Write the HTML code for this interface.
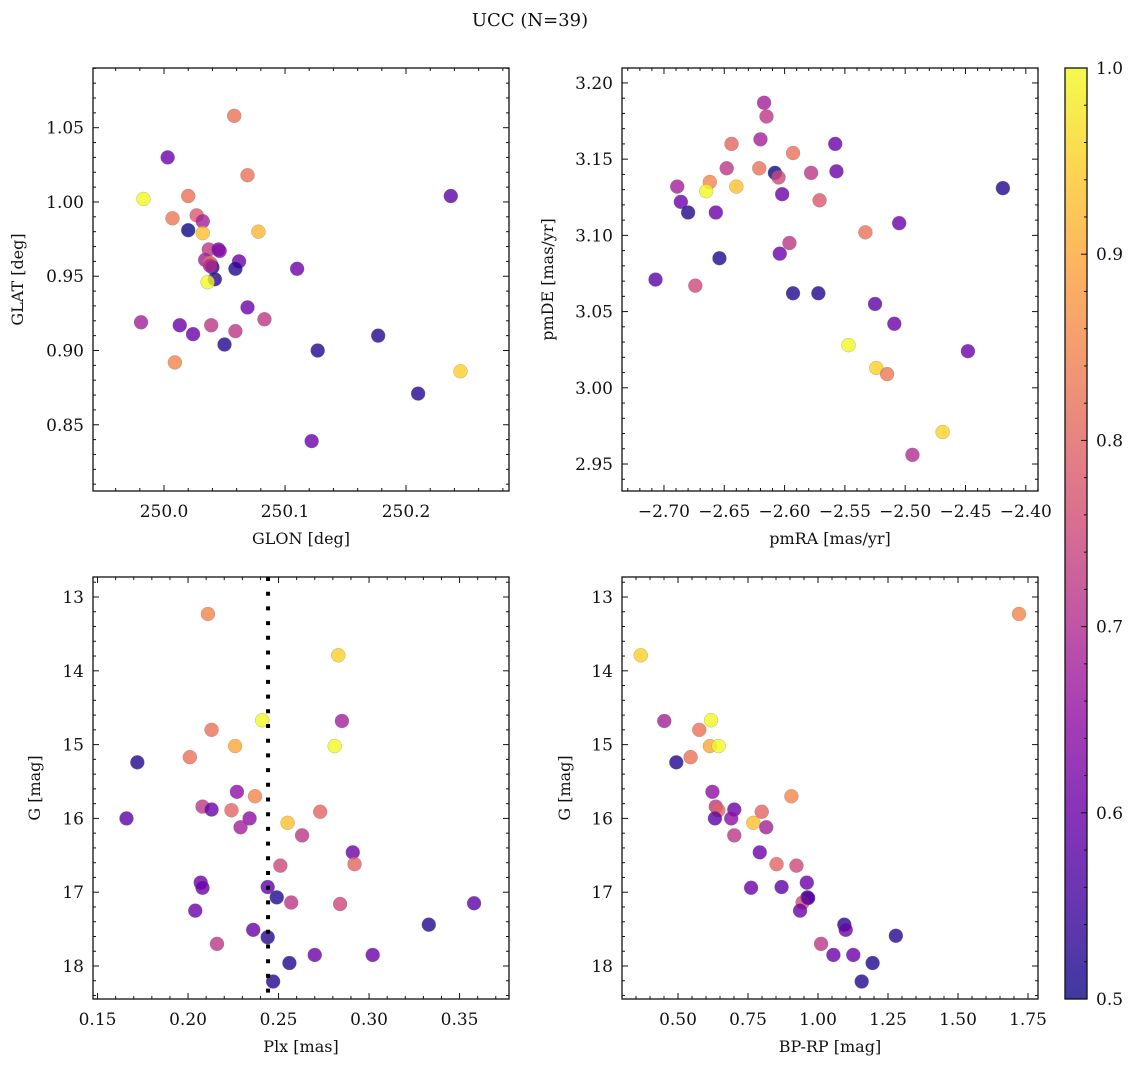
<!DOCTYPE html>
<html><head><meta charset="utf-8"><style>
html,body{margin:0;padding:0;background:#fff}
svg{display:block}
text{font-family:"DejaVu Serif","Liberation Serif",serif;fill:#111}
</style></head><body>
<svg id="fig" width="1136" height="1067" viewBox="0 0 1136 1067" xmlns="http://www.w3.org/2000/svg">
<defs>
<linearGradient id="plasmaGrad" x1="0" y1="1" x2="0" y2="0">
<stop offset="0" stop-color="#0d0887"/><stop offset="0.1" stop-color="#41049d"/><stop offset="0.2" stop-color="#6a00a8"/><stop offset="0.3" stop-color="#8f0da4"/><stop offset="0.4" stop-color="#b12a90"/><stop offset="0.5" stop-color="#cc4778"/><stop offset="0.6" stop-color="#e16462"/><stop offset="0.7" stop-color="#f2844b"/><stop offset="0.8" stop-color="#fca636"/><stop offset="0.9" stop-color="#fcce25"/><stop offset="1" stop-color="#f0f921"/>
</linearGradient>
</defs>
<text x="530" y="26" text-anchor="middle" font-size="18">UCC (N=39)</text>
</svg>
<script>
// ---------- data ----------
const glon = [250.058,250.003,250.069,249.983,250.020,250.237,250.007,250.027,250.032,250.020,250.032,250.078,250.037,250.045,250.046,250.034,250.039,250.038,250.040,250.062,250.059,250.110,250.042,250.036,250.069,249.981,250.013,250.039,250.083,250.024,250.059,250.050,250.009,250.127,250.177,250.245,250.210,250.122,250.038];
const glat = [1.058,1.030,1.018,1.002,1.004,1.004,0.989,0.991,0.987,0.981,0.979,0.980,0.968,0.968,0.967,0.961,0.958,0.959,0.956,0.960,0.955,0.955,0.948,0.946,0.929,0.919,0.917,0.917,0.921,0.911,0.913,0.904,0.892,0.900,0.910,0.886,0.871,0.839,0.957];
const probA = [0.82,0.6,0.82,1.0,0.82,0.58,0.83,0.78,0.68,0.5,0.93,0.92,0.72,0.6,0.65,0.68,0.75,0.82,0.52,0.6,0.52,0.6,0.52,1.0,0.6,0.68,0.6,0.72,0.72,0.6,0.72,0.52,0.85,0.52,0.52,0.95,0.52,0.6,0.7];

const pmra = [-2.617,-2.615,-2.620,-2.644,-2.558,-2.593,-2.648,-2.621,-2.608,-2.605,-2.578,-2.557,-2.689,-2.662,-2.665,-2.640,-2.419,-2.602,-2.686,-2.571,-2.680,-2.657,-2.505,-2.533,-2.596,-2.604,-2.654,-2.707,-2.674,-2.593,-2.572,-2.525,-2.509,-2.547,-2.448,-2.524,-2.515,-2.469,-2.494];
const pmde = [3.187,3.178,3.163,3.160,3.160,3.154,3.144,3.144,3.141,3.138,3.141,3.142,3.132,3.135,3.129,3.132,3.131,3.127,3.122,3.123,3.115,3.115,3.108,3.102,3.095,3.088,3.085,3.071,3.067,3.062,3.062,3.055,3.042,3.028,3.024,3.013,3.009,2.971,2.956];
const probB = [0.68,0.72,0.68,0.8,0.6,0.82,0.72,0.82,0.5,0.75,0.72,0.6,0.68,0.85,1.0,0.93,0.52,0.6,0.6,0.78,0.52,0.6,0.6,0.82,0.72,0.6,0.52,0.58,0.75,0.52,0.52,0.58,0.6,1.0,0.6,0.95,0.83,0.95,0.7];

const plx = [0.211,0.283,0.241,0.285,0.213,0.226,0.281,0.172,0.201,0.227,0.237,0.208,0.213,0.224,0.273,0.166,0.234,0.255,0.229,0.263,0.291,0.292,0.251,0.207,0.208,0.244,0.249,0.257,0.284,0.358,0.204,0.333,0.236,0.244,0.216,0.270,0.302,0.256,0.247];
const gmagC = [13.23,13.79,14.67,14.68,14.80,15.02,15.02,15.24,15.17,15.64,15.70,15.84,15.88,15.89,15.91,16.00,16.00,16.06,16.12,16.23,16.46,16.62,16.64,16.87,16.94,16.93,17.07,17.14,17.16,17.15,17.25,17.44,17.51,17.61,17.70,17.85,17.85,17.96,18.21];
const probC = [0.85,0.95,1.0,0.68,0.82,0.9,1.0,0.52,0.82,0.65,0.85,0.72,0.6,0.8,0.8,0.58,0.65,0.93,0.68,0.72,0.6,0.8,0.75,0.6,0.6,0.58,0.52,0.72,0.75,0.58,0.6,0.52,0.6,0.52,0.72,0.6,0.6,0.52,0.52];
const plxRef = [0.2442];

const bprp = [1.718,0.367,0.451,0.618,0.576,0.614,0.645,0.545,0.494,0.623,0.905,0.635,0.701,0.644,0.799,0.632,0.690,0.769,0.815,0.701,0.792,0.852,0.923,0.960,0.761,0.870,0.962,0.945,0.936,1.094,1.099,1.278,1.011,1.055,1.126,1.195,1.156,0.965];
const gmagD = [13.23,13.79,14.68,14.67,14.80,15.02,15.02,15.17,15.24,15.64,15.70,15.84,15.88,15.89,15.91,16.00,16.00,16.06,16.12,16.23,16.46,16.62,16.64,16.87,16.94,16.93,17.07,17.14,17.25,17.44,17.51,17.59,17.70,17.85,17.85,17.96,18.21,17.08];
const probD = [0.85,0.95,0.68,1.0,0.82,0.9,1.0,0.82,0.52,0.65,0.85,0.72,0.6,0.8,0.8,0.58,0.65,0.93,0.68,0.72,0.6,0.8,0.75,0.6,0.6,0.58,0.52,0.76,0.6,0.52,0.6,0.52,0.72,0.6,0.6,0.52,0.52,0.58];

const ticksGlon = [250.0,250.1,250.2];
const ticksGlat = [0.85,0.90,0.95,1.00,1.05];
const ticksPmra = [-2.70,-2.65,-2.60,-2.55,-2.50,-2.45,-2.40];
const ticksPmde = [2.95,3.00,3.05,3.10,3.15,3.20];
const ticksPlx = [0.15,0.20,0.25,0.30,0.35];
const ticksG = [13,14,15,16,17,18];
const ticksBprp = [0.50,0.75,1.00,1.25,1.50,1.75];
const ticksCbar = [0.5,0.6,0.7,0.8,0.9,1.0];

// ---------- helpers ----------
const NS = "http://www.w3.org/2000/svg";
const svg = document.getElementById('fig');
function mk(tag, attrs, parent) {
  const e = document.createElementNS(NS, tag);
  for (const k in attrs) e.setAttribute(k, attrs[k]);
  (parent || svg).appendChild(e);
  return e;
}
const stops = [[0,13,8,135],[0.1,65,4,157],[0.2,106,0,168],[0.3,143,13,164],[0.4,177,42,144],[0.5,204,71,120],[0.6,225,100,98],[0.7,242,132,75],[0.8,252,166,54],[0.9,252,206,37],[1,240,249,33]];
function plasma(v) {
  let t = Math.max(0, Math.min(1, (v - 0.5) / 0.5));
  for (let i = 1; i < stops.length; i++) {
    if (t <= stops[i][0]) {
      const a = stops[i-1], b = stops[i], f = (t - a[0]) / (b[0] - a[0]);
      return 'rgb(' + [1,2,3].map(j => Math.round(a[j] + f*(b[j]-a[j]))).join(',') + ')';
    }
  }
  return 'rgb(240,249,33)';
}
function fmt(v, d) { const s = v.toFixed(d); return s.replace('-', '\u2212'); }

function panel(cfg) {
  const g = mk('g', {});
  
  
  const {l, r, t, b} = cfg.box;
  const sx = v => l + (v - cfg.xd[0]) / (cfg.xd[1] - cfg.xd[0]) * (r - l);
  const sy = v => cfg.yinv ? t + (v - cfg.yd[0]) / (cfg.yd[1] - cfg.yd[0]) * (b - t)
                           : b - (v - cfg.yd[0]) / (cfg.yd[1] - cfg.yd[0]) * (b - t);
  const pts = mk('g', {}, g);
  
  
  for (let i = 0; i < cfg.x.length; i++) {
    const c = mk('circle', {cx: sx(cfg.x[i]), cy: sy(cfg.y[i]), r: 7, fill: plasma(cfg.c[i]), 'fill-opacity': 0.8, stroke: '#777', 'stroke-opacity': 0.5, 'stroke-width': 0.5}, pts);
    
    
  }
  if (cfg.vline) {
    const vl = mk('line', {x1: sx(cfg.vline[0]), x2: sx(cfg.vline[0]), y1: t, y2: b, stroke: '#000', 'stroke-width': 4, 'stroke-dasharray': '4 10.7'}, g);
    
    
  }
  const fr = mk('rect', {x: l, y: t, width: r - l, height: b - t, fill: 'none', stroke: '#111', 'stroke-width': 1.3}, g);
  
  
  const tg = mk('g', {stroke: '#111', 'stroke-width': 1}, g);
  
  
  const xs = cfg.xt[1] - cfg.xt[0], ys = cfg.yt[1] - cfg.yt[0];
  for (let k = -10; k <= 60; k++) {
    const v = cfg.xt[0] + k * xs / 5;
    if (v < Math.min(...cfg.xd) - 1e-9 || v > Math.max(...cfg.xd) + 1e-9) continue;
    const L = (k % 5 === 0) ? 6 : 3, X = sx(v);
    mk('line', {x1: X, x2: X, y1: b, y2: b - L}, tg);
    mk('line', {x1: X, x2: X, y1: t, y2: t + L}, tg);
  }
  for (let k = -10; k <= 60; k++) {
    const v = cfg.yt[0] + k * ys / 5;
    if (v < Math.min(...cfg.yd) - 1e-9 || v > Math.max(...cfg.yd) + 1e-9) continue;
    const L = (k % 5 === 0) ? 6 : 3, Y = sy(v);
    mk('line', {x1: l, x2: l + L, y1: Y, y2: Y}, tg);
    mk('line', {x1: r, x2: r - L, y1: Y, y2: Y}, tg);
  }
  cfg.xt.forEach(v => {
    const tx = mk('text', {x: sx(v), y: b + 26, 'text-anchor': 'middle', 'font-size': 17}, g);
    tx.textContent = fmt(v, cfg.xdec);
    
    
  });
  cfg.yt.forEach(v => {
    const tx = mk('text', {x: l - 9, y: sy(v) + 6, 'text-anchor': 'end', 'font-size': 17}, g);
    tx.textContent = fmt(v, cfg.ydec);
    
    
  });
  const xl = mk('text', {x: (l + r) / 2, y: b + 53, 'text-anchor': 'middle', 'font-size': 16}, g);
  xl.textContent = cfg.xlabel;
  
  
  const yl = mk('text', {x: cfg.ylx, y: (t + b) / 2, 'text-anchor': 'middle', 'font-size': 16, transform: 'rotate(-90 ' + cfg.ylx + ' ' + ((t + b) / 2) + ')'}, g);
  yl.textContent = cfg.ylabel;
  
  
}

panel({name: 'glon-glat-panel', box: {l: 93, r: 509, t: 68, b: 491}, xd: [249.9413, 250.2851], yd: [0.8054, 1.0902],
  x: glon, y: glat, c: probA, xt: ticksGlon, yt: ticksGlat, xdec: 1, ydec: 2, xlabel: 'GLON [deg]', ylabel: 'GLAT [deg]', ylx: 23});
panel({name: 'proper-motion-panel', box: {l: 622, r: 1038, t: 68, b: 491}, xd: [-2.7348, -2.3899], yd: [2.9323, 3.2098],
  x: pmra, y: pmde, c: probB, xt: ticksPmra, yt: ticksPmde, xdec: 2, ydec: 2, xlabel: 'pmRA [mas/yr]', ylabel: 'pmDE [mas/yr]', ylx: 553});
panel({name: 'parallax-magnitude-panel', box: {l: 93, r: 509, t: 577, b: 999}, xd: [0.1475, 0.3773], yd: [12.729, 18.447], yinv: true,
  x: plx, y: gmagC, c: probC, xt: ticksPlx, yt: ticksG, xdec: 2, ydec: 0, xlabel: 'Plx [mas]', ylabel: 'G [mag]', ylx: 40, vline: plxRef});
panel({name: 'color-magnitude-panel', box: {l: 622, r: 1038, t: 577, b: 999}, xd: [0.30, 1.7857], yd: [12.729, 18.447], yinv: true,
  x: bprp, y: gmagD, c: probD, xt: ticksBprp, yt: ticksG, xdec: 2, ydec: 0, xlabel: 'BP-RP [mag]', ylabel: 'G [mag]', ylx: 570});

(function () {
  const l = 1065, r = 1087, t = 68, b = 999;
  const g = mk('g', {});
  
  
  const bar = mk('rect', {x: l, y: t, width: r - l, height: b - t, fill: 'url(#plasmaGrad)', 'fill-opacity': 0.8}, g);
  
  
  const fr = mk('rect', {x: l, y: t, width: r - l, height: b - t, fill: 'none', stroke: '#111', 'stroke-width': 1.3}, g);
  
  
  const sy = v => b - (v - 0.5) / 0.5 * (b - t);
  for (let k = 0; k <= 25; k++) {
    const v = 0.5 + k * 0.02, Y = sy(v), L = (k % 5 === 0) ? 6 : 3;
    mk('line', {x1: r, x2: r - L, y1: Y, y2: Y, stroke: '#111', 'stroke-width': 1}, g);
  }
  ticksCbar.forEach(v => {
    const tx = mk('text', {x: r + 9, y: sy(v) + 6, 'font-size': 17}, g);
    tx.textContent = v.toFixed(1);
    
    
  });
})();
</script>
</body></html>
